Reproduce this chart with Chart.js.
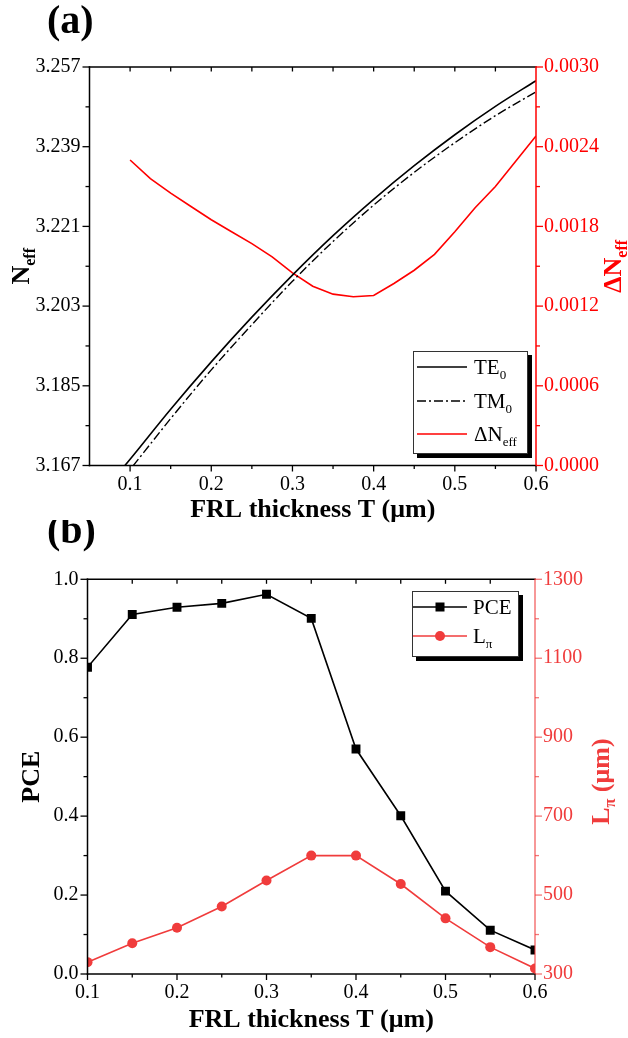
<!DOCTYPE html>
<html>
<head>
<meta charset="utf-8">
<title>FRL thickness sweep</title>
<script src="https://cdn.jsdelivr.net/npm/chart.js@4.4.1/dist/chart.umd.min.js"></script>
<style>
    body { margin: 0; background: #fff; width: 628px; height: 1038px; position: relative; overflow: hidden; }
    canvas { position: absolute; left: 0; }
    #chartA { top: 0; }
    #chartB { top: 520px; }
</style>
</head>
<body>
<canvas id="chartA" width="628" height="530"></canvas>
<canvas id="chartB" width="628" height="518"></canvas>
<script>
// ── Data: (a) effective index vs FRL thickness ──────────────────
const neffT     = [0.09, 0.10, 0.15, 0.20, 0.25, 0.30, 0.35, 0.40, 0.45, 0.50, 0.55, 0.60];
const te0Neff   = [3.1662, 3.1684, 3.1797, 3.1904, 3.2005, 3.2100, 3.2189, 3.2271, 3.2347, 3.2417, 3.2481, 3.2539];
const tm0Neff   = [3.1639, 3.1661, 3.1776, 3.1886, 3.1988, 3.2086, 3.2176, 3.2258, 3.2332, 3.2399, 3.2460, 3.2514];
const deltaT    = [0.100, 0.125, 0.150, 0.175, 0.200, 0.225, 0.250, 0.275, 0.300, 0.325, 0.350,
                   0.375, 0.400, 0.425, 0.450, 0.475, 0.500, 0.525, 0.550, 0.575, 0.600];
const deltaNeff = [0.00230, 0.00216, 0.00205, 0.00195, 0.00185, 0.00176, 0.00167, 0.00157, 0.00145, 0.00135, 0.00129,
                   0.00127, 0.00128, 0.00137, 0.00147, 0.00159, 0.00176, 0.00194, 0.00210, 0.00229, 0.00248];

const tTicksA     = [0.1, 0.2, 0.3, 0.4, 0.5, 0.6];
const tMinorA     = [0.15, 0.25, 0.35, 0.45, 0.55];
const neffTicks   = [3.167, 3.185, 3.203, 3.221, 3.239, 3.257];
const neffMinor   = [3.176, 3.194, 3.212, 3.230, 3.248];
const deltaTicks  = [0, 0.0006, 0.0012, 0.0018, 0.0024, 0.0030];
const deltaMinor  = [0.0003, 0.0009, 0.0015, 0.0021, 0.0027];

// ── Data: (b) PCE and L_pi vs FRL thickness ─────────────────────
const sweepT = [0.10, 0.15, 0.20, 0.25, 0.30, 0.35, 0.40, 0.45, 0.50, 0.55, 0.60];
const pce    = [0.777, 0.911, 0.929, 0.939, 0.962, 0.901, 0.570, 0.401, 0.210, 0.111, 0.061];
const lPi    = [330, 378, 417, 471, 537, 600, 600, 528, 441, 368, 314];

const tTicksB   = [0.1, 0.2, 0.3, 0.4, 0.5, 0.6];
const tMinorB   = [0.15, 0.25, 0.35, 0.45, 0.55];
const pceTicks  = [0, 0.2, 0.4, 0.6, 0.8, 1.0];
const pceMinor  = [0.1, 0.3, 0.5, 0.7, 0.9];
const lPiTicks  = [300, 500, 700, 900, 1100, 1300];
const lPiMinor  = [400, 600, 800, 1000, 1200];

// ── Styling ─────────────────────────────────────────────────────
const SERIF = '"Liberation Serif", "Times New Roman", serif';
const RED_A = '#FF0000';
const RED_B = '#F03C3C';
const RED_B_AXIS = 'rgba(240,60,60,0.7)';

const pts = (xs, ys) => xs.map((x, i) => ({ x, y: ys[i] }));

// ── Helpers ─────────────────────────────────────────────────────
// parts: [[text, isSubscript], ...], y is the baseline
function richText(ctx, parts, x, y, size, bold) {
    let cx = x;
    parts.forEach(([txt, sub]) => {
        const fs = sub ? size * 0.62 : size;
        ctx.font = `${bold ? 'bold ' : ''}${fs}px ${SERIF}`;
        ctx.fillText(txt, cx, sub ? y + size * 0.22 : y);
        cx += ctx.measureText(txt).width;
    });
    return cx - x;
}

function richWidth(ctx, parts, size, bold) {
    let w = 0;
    parts.forEach(([txt, sub]) => {
        ctx.font = `${bold ? 'bold ' : ''}${sub ? size * 0.62 : size}px ${SERIF}`;
        w += ctx.measureText(txt).width;
    });
    return w;
}

function seg(ctx, x1, y1, x2, y2) {
    ctx.beginPath();
    ctx.moveTo(x1, y1);
    ctx.lineTo(x2, y2);
    ctx.stroke();
}

function rotatedTitle(ctx, parts, cx, cy, size, color) {
    ctx.save();
    ctx.translate(cx, cy);
    ctx.rotate(-Math.PI / 2);
    ctx.fillStyle = color;
    ctx.textAlign = 'left';
    ctx.textBaseline = 'alphabetic';
    const w = richWidth(ctx, parts, size, true);
    richText(ctx, parts, -w / 2, size * 0.34, size, true);
    ctx.restore();
}

function fixWidth(w)  { return s => { s.width = w; }; }
function fixHeight(h) { return s => { s.height = h; }; }
function setTicks(list) { return s => { s.ticks = list.map(v => ({ value: v })); }; }

// frame, minor/major tick marks, axis titles, legend and panel tag
function decor(cfg) {
    return {
        id: 'decor',
        afterDraw(chart) {
            const { ctx, chartArea: a, scales } = chart;
            const sx = scales.x, sy = scales.y, sy2 = scales.y2;
            ctx.save();
            ctx.lineCap = 'square';

            // frame
            ctx.lineWidth = 1.5;
            ctx.strokeStyle = '#000';
            seg(ctx, a.left, a.top, a.right, a.top);
            seg(ctx, a.left, a.top, a.left, a.bottom);
            seg(ctx, a.left, a.bottom, a.right, a.bottom);
            ctx.strokeStyle = cfg.rightAxis;
            seg(ctx, a.right, a.top, a.right, a.bottom);

            // ticks
            ctx.lineCap = 'butt';
            ctx.lineWidth = 1.3;
            ctx.strokeStyle = '#000';
            cfg.xTicks.forEach(v => { const p = sx.getPixelForValue(v); seg(ctx, p, a.bottom, p, a.bottom + 6); });
            cfg.xMinor.forEach(v => { const p = sx.getPixelForValue(v); seg(ctx, p, a.bottom, p, a.bottom + 3.5); });
            cfg.xTicks.concat(cfg.xMinor).forEach(v => {
                const p = sx.getPixelForValue(v);
                if (p > a.left + 1 && p < a.right - 1) seg(ctx, p, a.top, p, a.top + 4.5);
            });
            cfg.yTicks.forEach(v => { const p = sy.getPixelForValue(v); seg(ctx, a.left, p, a.left - 7, p); });
            cfg.yMinor.forEach(v => { const p = sy.getPixelForValue(v); seg(ctx, a.left, p, a.left - 4, p); });
            ctx.strokeStyle = cfg.rightAxis;
            cfg.y2Ticks.forEach(v => { const p = sy2.getPixelForValue(v); seg(ctx, a.right, p, a.right + 7, p); });
            cfg.y2Minor.forEach(v => { const p = sy2.getPixelForValue(v); seg(ctx, a.right, p, a.right + 4, p); });

            // axis titles
            const midY = (a.top + a.bottom) / 2;
            ctx.fillStyle = '#000';
            ctx.textAlign = 'left';
            ctx.textBaseline = 'alphabetic';
            const xt = [['FRL thickness T (\u03bcm)', false]];
            const xw = richWidth(ctx, xt, 26, true);
            richText(ctx, xt, (a.left + a.right) / 2 - xw / 2, cfg.xTitleY, 26, true);
            rotatedTitle(ctx, cfg.yTitle, cfg.yTitleX, midY + (cfg.yTitleDy || 0), 26, '#000');
            rotatedTitle(ctx, cfg.y2Title, cfg.y2TitleX, midY + (cfg.y2TitleDy || 0), 26, cfg.rightText);

            // panel tag
            ctx.fillStyle = '#000';
            ctx.font = `bold 40px ${SERIF}`;
            ctx.fillText(cfg.tag[0], cfg.tag[1], cfg.tag[2]);

            // legend
            const L = cfg.legend;
            const [bx, by, bw, bh] = L.box;
            ctx.fillStyle = '#000';
            ctx.fillRect(bx + 4, by + 4, bw, bh);
            ctx.fillStyle = '#fff';
            ctx.fillRect(bx, by, bw, bh);
            ctx.lineWidth = 1;
            ctx.strokeStyle = '#333';
            ctx.strokeRect(bx + 0.5, by + 0.5, bw - 1, bh - 1);
            L.rows.forEach(r => {
                ctx.save();
                ctx.strokeStyle = r.color;
                ctx.fillStyle = r.color;
                ctx.lineWidth = 1.5;
                if (r.dash) ctx.setLineDash(r.dash);
                seg(ctx, L.x0, r.y, L.x1, r.y);
                ctx.setLineDash([]);
                const mx = (L.x0 + L.x1) / 2;
                if (r.marker === 'rect') ctx.fillRect(mx - 4.5, r.y - 4.5, 9, 9);
                if (r.marker === 'circle') { ctx.beginPath(); ctx.arc(mx, r.y, 5, 0, Math.PI * 2); ctx.fill(); }
                ctx.fillStyle = '#000';
                richText(ctx, r.parts, L.tx, r.y + 21 * 0.34, 21, false);
                ctx.restore();
            });
            ctx.restore();
        }
    };
}

const tickFont = { family: SERIF, size: 20 };
const baseOptions = {
    responsive: false,
    animation: false,
    events: [],
    plugins: { legend: { display: false }, tooltip: { enabled: false } }
};

// ── (a) N_eff chart ─────────────────────────────────────────────
new Chart(document.getElementById('chartA'), {
    type: 'line',
    data: {
        datasets: [
            { data: pts(neffT, te0Neff), yAxisID: 'y', borderColor: '#000', borderWidth: 1.6,
              pointRadius: 0, cubicInterpolationMode: 'monotone' },
            { data: pts(neffT, tm0Neff), yAxisID: 'y', borderColor: '#000', borderWidth: 1.4,
              borderDash: [9, 3, 2, 3], pointRadius: 0, cubicInterpolationMode: 'monotone' },
            { data: pts(deltaT, deltaNeff), yAxisID: 'y2', borderColor: RED_A, borderWidth: 1.6,
              pointRadius: 0, tension: 0 }
        ]
    },
    options: {
        ...baseOptions,
        layout: { padding: { top: 67, left: 0, right: 0, bottom: 0 } },
        scales: {
            x: {
                type: 'linear', position: 'bottom', min: 0.05, max: 0.6,
                afterBuildTicks: setTicks(tTicksA), afterFit: fixHeight(64.5),
                grid: { display: false, drawTicks: false }, border: { display: false },
                ticks: { font: tickFont, color: '#000', padding: 7, maxRotation: 0, callback: v => v.toFixed(1) }
            },
            y: {
                position: 'left', min: 3.167, max: 3.257,
                afterBuildTicks: setTicks(neffTicks), afterFit: fixWidth(89.5),
                grid: { display: false, drawTicks: false }, border: { display: false },
                ticks: { font: tickFont, color: '#000', padding: 9, callback: v => v.toFixed(3) }
            },
            y2: {
                position: 'right', min: 0, max: 0.003,
                afterBuildTicks: setTicks(deltaTicks), afterFit: fixWidth(92),
                grid: { display: false, drawTicks: false }, border: { display: false },
                ticks: { font: tickFont, color: RED_A, padding: 8, callback: v => v.toFixed(4) }
            }
        }
    },
    plugins: [decor({
        xTicks: tTicksA, xMinor: tMinorA, yTicks: neffTicks, yMinor: neffMinor,
        y2Ticks: deltaTicks, y2Minor: deltaMinor,
        rightAxis: RED_A, rightText: RED_A,
        xTitleY: 517,
        yTitle: [['N', false], ['eff', true]], yTitleX: 20,
        y2Title: [['\u0394N', false], ['eff', true]], y2TitleX: 612,
        tag: ['(a)', 47, 33],
        legend: {
            box: [413, 351, 115, 103], x0: 417, x1: 467, tx: 474,
            rows: [
                { y: 367, color: '#000', parts: [['TE', false], ['0', true]] },
                { y: 401, color: '#000', dash: [9, 3, 2, 3], parts: [['TM', false], ['0', true]] },
                { y: 434, color: RED_A, parts: [['\u0394N', false], ['eff', true]] }
            ]
        }
    })]
});

// ── (b) PCE / L_pi chart ────────────────────────────────────────
new Chart(document.getElementById('chartB'), {
    type: 'line',
    data: {
        datasets: [
            { data: pts(sweepT, lPi), yAxisID: 'y2', borderColor: RED_B, backgroundColor: RED_B,
              borderWidth: 1.6, pointStyle: 'circle', pointRadius: 5, pointBorderWidth: 0, clip: 0 },
            { data: pts(sweepT, pce), yAxisID: 'y', borderColor: '#000', backgroundColor: '#000',
              borderWidth: 1.6, pointStyle: 'rect', pointRadius: 6.3, pointBorderWidth: 0, clip: 0 }
        ]
    },
    options: {
        ...baseOptions,
        layout: { padding: { top: 59.3, left: 0, right: 0, bottom: 0 } },
        scales: {
            x: {
                type: 'linear', position: 'bottom', min: 0.1, max: 0.6,
                afterBuildTicks: setTicks(tTicksB), afterFit: fixHeight(64),
                grid: { display: false, drawTicks: false }, border: { display: false },
                ticks: { font: tickFont, color: '#000', padding: 7, maxRotation: 0, callback: v => v.toFixed(1) }
            },
            y: {
                position: 'left', min: 0, max: 1,
                afterBuildTicks: setTicks(pceTicks), afterFit: fixWidth(87.5),
                grid: { display: false, drawTicks: false }, border: { display: false },
                ticks: { font: tickFont, color: '#000', padding: 9, callback: v => v.toFixed(1) }
            },
            y2: {
                position: 'right', min: 300, max: 1300,
                afterBuildTicks: setTicks(lPiTicks), afterFit: fixWidth(93),
                grid: { display: false, drawTicks: false }, border: { display: false },
                ticks: { font: tickFont, color: RED_B, padding: 8, callback: v => String(v) }
            }
        }
    },
    plugins: [decor({
        xTicks: tTicksB, xMinor: tMinorB, yTicks: pceTicks, yMinor: pceMinor,
        y2Ticks: lPiTicks, y2Minor: lPiMinor,
        rightAxis: RED_B_AXIS, rightText: RED_B,
        xTitleY: 507,
        yTitle: [['PCE', false]], yTitleX: 30,
        y2Title: [['L', false], ['\u03c0', true], [' (\u03bcm)', false]], y2TitleX: 600, y2TitleDy: 5,
        tag: ['(b)', 47, 23],
        legend: {
            box: [412, 71, 107, 66], x0: 413, x1: 467, tx: 473,
            rows: [
                { y: 87, color: '#000', marker: 'rect', parts: [['PCE', false]] },
                { y: 116, color: RED_B, marker: 'circle', parts: [['L', false], ['\u03c0', true]] }
            ]
        }
    })]
});
</script>
</body>
</html>
